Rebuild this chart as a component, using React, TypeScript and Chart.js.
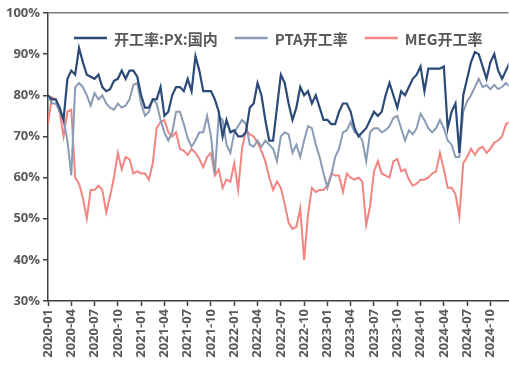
import React, { useEffect, useRef } from "react";
import { Chart, registerables } from "chart.js";

Chart.register(...registerables);

// Semi-monthly periods, expressed as months since 2020-01
const periods: number[] = Array.from({ length: 120 }, (_, i) => i / 2);

const seriesNames = ["开工率:PX:国内", "PTA开工率", "MEG开工率"];

const pxRate = [
  80, 79, 79, 77, 74, 84, 86, 85, 91.5, 88, 85, 84.5, 84, 85, 82, 81, 81.5, 83.5, 84, 86,
  84, 86, 86, 84.5, 80, 77, 77, 79, 79, 82, 75, 76, 80, 82, 82, 81, 84, 81, 89.5, 86,
  81, 81, 81, 79, 76, 70, 74, 71, 71.5, 70, 70, 71, 77, 78, 83, 80, 74, 69, 69, 77,
  85, 83, 78, 74, 77, 82, 80, 81, 78, 80, 77, 74, 74, 73, 73, 76, 78, 78, 76, 72,
  70, 71, 72, 74, 76, 75, 76, 80, 83, 80, 77, 81, 80, 82, 84, 85, 87, 81, 86.5, 86.5,
  86.5, 86.5, 87, 72, 76, 78, 66, 80, 84, 88, 90.5, 90, 87, 84, 88, 90, 86, 84, 86, 88,
];

const ptaRate = [
  80, 78, 78, 76, 74, 69, 60.5, 82, 83, 82, 80, 77.5, 80.5, 79, 80, 78, 77, 76.5, 78, 77,
  77.5, 79, 82.5, 83, 78, 75, 76, 79, 78, 74, 71, 69, 71, 76, 76, 73, 69.5, 67.5, 69, 71,
  71, 75, 70, 61, 75, 74, 68, 66, 71, 72.5, 74, 73, 68, 67.5, 69, 67.5, 69, 68, 67, 64,
  70, 71, 70.5, 66, 68, 65, 69, 72.5, 72, 68, 65, 61, 57.5, 60.5, 65, 67, 71, 71.5, 73.5, 71,
  70.5, 69, 64, 71, 72, 72, 71, 71.5, 72.5, 74.5, 75, 72, 69, 71.5, 70.5, 72, 75.5, 74, 72, 71,
  72, 74, 72, 69, 68, 65, 65, 76, 78.5, 80, 82, 84, 82, 82.5, 81.5, 82.5, 81.5, 82, 83, 82,
];

const megRate = [
  73, 79.5, 79, 76, 70, 76, 76.5, 60, 58.5, 55, 50, 57, 57, 58, 57, 51.5, 55.5, 60, 66, 62,
  65, 64.5, 61, 61.5, 61, 61, 59.5, 63.5, 72, 73.5, 74, 71, 70, 71, 67, 66.5, 65.5, 67, 66, 64.5,
  62.5, 65, 66, 60.5, 62, 57.5, 59.5, 59, 63.5, 57, 67, 71.5, 70.5, 70, 68.5, 66.5, 64, 60, 57, 59,
  57.5, 53.5, 49, 47.5, 48, 52.5, 40, 51, 57.5, 56.5, 57, 57, 58, 61, 60.5, 60.5, 56.5, 61, 60, 59.5,
  60, 59, 48.5, 53, 61.5, 64, 61, 60.5, 60, 64, 64.5, 61.5, 62, 59.5, 58, 58.5, 59.5, 59.5, 60, 61,
  61.5, 66, 62, 57.5, 57.5, 56, 50.5, 63.5, 65, 67, 65.5, 67, 67.5, 66, 67, 68.5, 69, 70, 73, 73.5,
];

const yTicks = [30, 40, 50, 60, 70, 80, 90, 100];
const xTickStepMonths = 3;
const xMaxMonths = 59.33;

const seriesColors = ["#2c4a78", "#8a9bb5", "#f28482"];
const textColor = "#595959";

const overlayLegend = {
  id: "overlayLegend",
  afterDraw(chart: any) {
    const { ctx, chartArea } = chart;
    ctx.save();
    ctx.font = 'bold 15px "Noto Sans CJK SC", sans-serif';
    const lineLen = 33;
    const gapLT = 7;
    const gapItems = 17;
    const items = chart.data.datasets.map((ds: any) => ({
      label: ds.label,
      color: ds.borderColor,
      w: ctx.measureText(ds.label).width,
    }));
    const total =
      items.reduce((a: number, it: any) => a + lineLen + gapLT + it.w, 0) +
      gapItems * (items.length - 1);
    let x = (chartArea.left + chartArea.right) / 2 - total / 2;
    const y = chartArea.top + 25;
    ctx.textBaseline = "middle";
    ctx.textAlign = "left";
    for (const it of items) {
      ctx.strokeStyle = it.color;
      ctx.lineWidth = 2.5;
      ctx.beginPath();
      ctx.moveTo(x, y);
      ctx.lineTo(x + lineLen, y);
      ctx.stroke();
      x += lineLen + gapLT;
      ctx.fillStyle = textColor;
      ctx.fillText(it.label, x, y + 1);
      x += it.w + gapItems;
    }
    ctx.restore();
  },
};

export default function App() {
  const ref = useRef<HTMLCanvasElement | null>(null);

  useEffect(() => {
    document.body.style.margin = "0";
    const canvas = ref.current;
    if (!canvas) return;
    const mk = (vals: number[]) => periods.map((p, i) => ({ x: p, y: vals[i] }));
    const chart = new Chart(canvas, {
      type: "line",
      data: {
        datasets: [
          { label: seriesNames[0], data: mk(pxRate), borderColor: seriesColors[0], borderWidth: 2.2 },
          { label: seriesNames[1], data: mk(ptaRate), borderColor: seriesColors[1], borderWidth: 2 },
          { label: seriesNames[2], data: mk(megRate), borderColor: seriesColors[2], borderWidth: 2 },
        ].map((d) => ({ ...d, pointRadius: 0, tension: 0, fill: false })),
      },
      options: {
        animation: false,
        responsive: false,
        maintainAspectRatio: false,
        layout: { padding: { top: 13, right: 0, left: 0, bottom: 0 } },
        plugins: { legend: { display: false }, tooltip: { enabled: false } },
        scales: {
          x: {
            type: "linear",
            min: 0,
            max: xMaxMonths,
            afterFit: (s: any) => {
              s.height = 64;
            },
            ticks: {
              stepSize: xTickStepMonths,
              includeBounds: false,
              autoSkip: false,
              maxRotation: 90,
              minRotation: 90,
              padding: 3,
              color: textColor,
              font: { family: "'Open Sans', sans-serif", size: 13, weight: "bold" },
              callback: (v: any) => {
                const m = Math.round(Number(v));
                const yr = 2020 + Math.floor(m / 12);
                const mo = (m % 12) + 1;
                return `${yr}-${mo < 10 ? "0" + mo : mo}`;
              },
            },
            grid: { drawOnChartArea: false, tickLength: 5, tickColor: "#404040", tickWidth: 1.5 },
            border: { color: "#404040", width: 1.5 },
          },
          y: {
            min: 30,
            max: 100,
            afterFit: (s: any) => {
              s.width = 48;
            },
            afterBuildTicks: (s: any) => {
              s.ticks = yTicks.map((v) => ({ value: v }));
            },
            ticks: {
              padding: 3,
              color: textColor,
              font: { family: "'Open Sans', sans-serif", size: 13, weight: "bold" },
              callback: (v: any) => `${v}%`,
            },
            grid: {
              tickLength: 5,
              color: (c: any) => (c.tick && c.tick.value === 100 ? "#7a7a7a" : "rgba(0,0,0,0)"),
              tickColor: "#404040",
              lineWidth: 1.5,
            },
            border: { color: "#404040", width: 1.5 },
          },
        },
      },
      plugins: [overlayLegend],
    });
    return () => chart.destroy();
  }, []);

  return (
    <div style={{ width: 509, height: 365, background: "#fff" }}>
      <canvas ref={ref} width={509} height={365} style={{ display: "block" }} />
    </div>
  );
}
